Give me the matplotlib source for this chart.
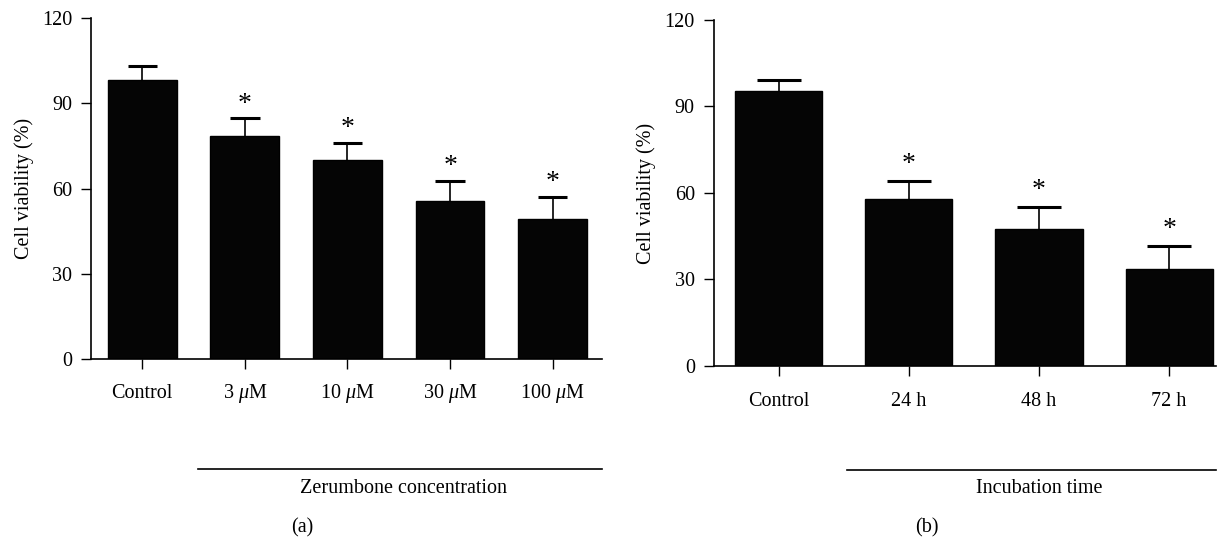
import matplotlib.pyplot as plt
from matplotlib.lines import Line2D
import numpy as np

plt.rcParams['font.family'] = 'Liberation Serif'
plt.rcParams['mathtext.fontset'] = 'custom'
plt.rcParams['mathtext.rm'] = 'Liberation Serif'
plt.rcParams['mathtext.it'] = 'Liberation Serif:italic'

# panel (a): zerumbone concentration
conc_labels = ['Control', r'3 $\mu$M', r'10 $\mu$M', r'30 $\mu$M', r'100 $\mu$M']
conc_mean = [98.1, 78.4, 70.1, 55.7, 49.1]
conc_err = [5.2, 6.3, 6.0, 7.0, 8.0]
conc_sig = [False, True, True, True, True]

# panel (b): incubation time
time_labels = ['Control', '24 h', '48 h', '72 h']
time_mean = [95.5, 57.9, 47.6, 33.8]
time_err = [3.7, 6.3, 7.4, 7.8]
time_sig = [False, True, True, True]

FS = 14.5

fig = plt.figure(figsize=(12.24, 5.39), dpi=100)
ax1 = fig.add_axes([0.0743, 0.3345, 0.4175, 0.6315])
ax2 = fig.add_axes([0.583, 0.321, 0.4105, 0.642])


def draw(ax, labels, mean, err, sig, xmax, cap, star_off):
    x = np.arange(len(labels))
    mean = np.array(mean)
    err = np.array(err)
    ax.bar(x, mean, width=0.67, color='#050505', edgecolor='black', zorder=2)
    # one-sided error bars (upward only)
    ax.vlines(x, mean, mean + err, color='black', lw=1.2, zorder=1)
    ax.hlines(mean + err, x - cap, x + cap, color='black', lw=2.2, zorder=1)
    for xi, m, e, s in zip(x, mean, err, sig):
        if s:
            ax.annotate('*', (xi, m + e), xytext=(0, star_off), textcoords='offset points',
                        ha='center', va='center', fontsize=20)
    ax.set_xlim(-0.5, xmax)
    ax.set_ylim(0, 120)
    ax.set_yticks([0, 30, 60, 90, 120])
    ax.set_xticks(x)
    ax.set_xticklabels(labels)
    for lab in ax.get_xticklabels():
        lab.set_va('baseline')
    ax.set_ylabel('Cell viability (%)', fontsize=FS, labelpad=6)
    ax.spines['top'].set_visible(False)
    ax.spines['right'].set_visible(False)
    for sp in ('left', 'bottom'):
        ax.spines[sp].set_linewidth(1.2)
    ax.tick_params(axis='both', direction='out', length=7.5, width=1.0, labelsize=FS)
    ax.tick_params(axis='y', pad=6)
    ax.tick_params(axis='x', pad=21)


draw(ax1, conc_labels, conc_mean, conc_err, conc_sig, 4.48, 0.143, 10)
draw(ax2, time_labels, time_mean, time_err, time_sig, 3.36, 0.17, 12)

fig.add_artist(Line2D([0.1618, 0.4918], [0.1299, 0.1299], color='black', lw=1.2))
fig.add_artist(Line2D([0.692, 0.9935], [0.128, 0.128], color='black', lw=1.2))
fig.text(0.330, 0.0928, 'Zerumbone concentration', ha='center', va='center', fontsize=FS)
fig.text(0.849, 0.0928, 'Incubation time', ha='center', va='center', fontsize=FS)
fig.text(0.2467, 0.0204, '(a)', ha='center', va='center', fontsize=FS)
fig.text(0.757, 0.0204, '(b)', ha='center', va='center', fontsize=FS)

plt.savefig('out.png', dpi=100)
